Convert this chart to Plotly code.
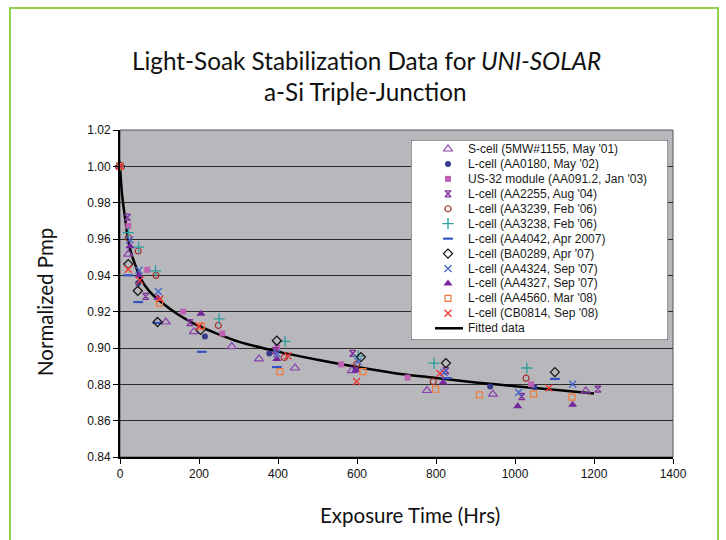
import plotly.graph_objects as go

# ---------------- data ----------------
s_cell_x = [0, 21, 116, 187, 283, 352, 443, 587, 777, 944, 1179]
s_cell_y = [1.000, 0.9517, 0.9143, 0.909, 0.9008, 0.894, 0.889, 0.8875, 0.8766, 0.8746, 0.8764]

aa0180_x = [0, 46, 215, 378, 597, 937, 1049]
aa0180_y = [1.000, 0.9358, 0.9063, 0.897, 0.888, 0.8788, 0.8785]

us32_x = [0, 21, 69, 160, 259, 398, 560, 728, 1041]
us32_y = [1.000, 0.9672, 0.943, 0.920, 0.908, 0.9003, 0.891, 0.8837, 0.880]

aa2255_x = [0, 19, 65, 177, 393, 589, 825, 1017, 1210]
aa2255_y = [1.000, 0.972, 0.9284, 0.914, 0.8985, 0.897, 0.8875, 0.8733, 0.8774]

aa3239_x = [0, 21, 46, 91, 249, 416, 599, 793, 1028]
aa3239_y = [1.000, 0.9607, 0.9534, 0.940, 0.9124, 0.8948, 0.891, 0.8815, 0.8834]

aa3238_x = [0, 21, 47, 90, 251, 418, 603, 795, 1030]
aa3238_y = [1.000, 0.9635, 0.9555, 0.9424, 0.916, 0.9036, 0.8955, 0.8917, 0.889]

aa4042_x = [0, 21, 46, 95, 207, 397, 827, 1101]
aa4042_y = [1.000, 0.940, 0.9253, 0.9138, 0.8979, 0.8895, 0.8834, 0.883]

ba0289_x = [0, 21, 45, 95, 204, 397, 610, 825, 1101]
ba0289_y = [1.000, 0.9462, 0.9315, 0.9143, 0.910, 0.904, 0.895, 0.8917, 0.8867]

aa4324_x = [0, 25, 48, 97, 397, 603, 820, 1009, 1146]
aa4324_y = [1.000, 0.9596, 0.9428, 0.9311, 0.897, 0.8925, 0.8865, 0.8755, 0.880]

aa4327_x = [0, 25, 48, 96, 205, 397, 597, 818, 1007, 1146]
aa4327_y = [1.000, 0.956, 0.940, 0.9275, 0.9188, 0.894, 0.8878, 0.881, 0.868, 0.8687]

aa4560_x = [0, 100, 206, 405, 615, 799, 910, 1047, 1144]
aa4560_y = [1.000, 0.9247, 0.912, 0.887, 0.887, 0.8773, 0.8742, 0.8746, 0.873]

cb0814_x = [0, 21, 50, 101, 200, 425, 599, 810, 1086]
cb0814_y = [1.000, 0.9433, 0.9372, 0.927, 0.912, 0.8957, 0.8815, 0.886, 0.878]

fit_x = [0, 5, 10, 15, 20, 30, 40, 50, 75, 100, 150, 200, 300, 400, 500,
         600, 700, 800, 900, 1000, 1100, 1200]
fit_y = [1.000, 0.985, 0.976, 0.968, 0.960, 0.951, 0.945, 0.939, 0.931, 0.926,
         0.918, 0.912, 0.9035, 0.898, 0.8935, 0.8895, 0.886, 0.8835, 0.881,
         0.879, 0.877, 0.875]

series_names = [
    "S-cell (5MW#1155, May '01)",
    "L-cell (AA0180, May '02)",
    "US-32 module (AA091.2, Jan '03)",
    "L-cell (AA2255, Aug '04)",
    "L-cell (AA3239, Feb '06)",
    "L-cell (AA3238, Feb '06)",
    "L-cell (AA4042, Apr 2007)",
    "L-cell (BA0289, Apr '07)",
    "L-cell (AA4324, Sep '07)",
    "L-cell (AA4327, Sep '07)",
    "L-cell (AA4560. Mar '08)",
    "L-cell (CB0814, Sep '08)",
]
fit_name = "Fitted data"

x_ticks = [0, 200, 400, 600, 800, 1000, 1200, 1400]
y_ticks = [0.84, 0.86, 0.88, 0.90, 0.92, 0.94, 0.96, 0.98, 1.00, 1.02]

# ---------------- styles ----------------
series_data = [
    (s_cell_x, s_cell_y), (aa0180_x, aa0180_y), (us32_x, us32_y),
    (aa2255_x, aa2255_y), (aa3239_x, aa3239_y), (aa3238_x, aa3238_y),
    (aa4042_x, aa4042_y), (ba0289_x, ba0289_y), (aa4324_x, aa4324_y),
    (aa4327_x, aa4327_y), (aa4560_x, aa4560_y), (cb0814_x, cb0814_y),
]
styles = [
    dict(symbol="triangle-up-open", color="#8A3FB0", size=8, width=1.2),
    dict(symbol="circle", color="#353A8A", size=6, width=0),
    dict(symbol="square", color="#C062B4", size=6, width=0),
    dict(symbol="hourglass-open", color="#7E3199", size=6, width=1.3),
    dict(symbol="circle-open", color="#A0302C", size=6, width=1.2),
    dict(symbol="cross-thin-open", color="#2A9E9E", size=8, width=1.3),
    dict(symbol="line-ew-open", color="#3552C0", size=7, width=2.2),
    dict(symbol="diamond-open", color="#111111", size=7, width=1.2),
    dict(symbol="x-thin-open", color="#4466CC", size=7, width=1.3),
    dict(symbol="triangle-up", color="#76289A", size=8, width=0),
    dict(symbol="square-open", color="#F07A38", size=6, width=1.2),
    dict(symbol="x-thin-open", color="#EE3A36", size=7, width=1.4),
]

fig = go.Figure()

# fitted line
fig.add_trace(go.Scatter(x=fit_x, y=fit_y, mode="lines", name=fit_name,
                         line=dict(color="black", width=2.5, shape="spline", smoothing=0.6),
                         showlegend=False, cliponaxis=False))

for (xs, ys), name, st in zip(series_data, series_names, styles):
    fig.add_trace(go.Scatter(
        x=xs, y=ys, mode="markers", name=name, showlegend=False, cliponaxis=False,
        marker=dict(symbol=st["symbol"], color=st["color"], size=st["size"],
                    line=dict(width=st["width"], color=st["color"]))))

# ---------------- custom compact legend (own small subplot) ----------------
L, R, T, B = 120, 53, 130, 83
W, H = 726, 540
pw, ph = W - L - R, H - T - B
box = dict(x0=411, x1=668, y0=140, y1=340)   # pixels
row_pitch = 14.94
first_row = 9.0
bw = box["x1"] - box["x0"]
bh = box["y1"] - box["y0"]

for i, (name, st) in enumerate(zip(series_names, styles)):
    ry = first_row + row_pitch * i
    fig.add_trace(go.Scatter(
        x=[37], y=[ry], xaxis="x2", yaxis="y2", mode="markers", showlegend=False,
        hoverinfo="skip", cliponaxis=False,
        marker=dict(symbol=st["symbol"], color=st["color"], size=st["size"],
                    line=dict(width=st["width"], color=st["color"]))))
    fig.add_annotation(x=55, y=ry, xref="x2", yref="y2", text=name, showarrow=False,
                       xanchor="left", yanchor="middle",
                       font=dict(family="Liberation Sans, Arial", size=12, color="#1a1a1a"))
ry = first_row + row_pitch * len(series_names)
fig.add_trace(go.Scatter(x=[24, 52], y=[ry, ry], xaxis="x2", yaxis="y2", mode="lines",
                         showlegend=False, hoverinfo="skip",
                         line=dict(color="black", width=2.5)))
fig.add_annotation(x=55, y=ry, xref="x2", yref="y2", text=fit_name, showarrow=False,
                   xanchor="left", yanchor="middle",
                   font=dict(family="Liberation Sans, Arial", size=12, color="#1a1a1a"))

fig.add_shape(type="rect", xref="x2", yref="y2", x0=0, x1=bw, y0=0, y1=bh,
              fillcolor="white", line=dict(color="#333333", width=1), layer="below")


def px_x(p):
    return (p - L) / pw


def px_y(p):
    return (H - B - p) / ph


# plot frame (thin top/right border)
fig.add_shape(type="rect", xref="paper", yref="paper", x0=0, x1=1, y0=0, y1=1,
              line=dict(color="#555555", width=1), layer="below")
# outer green frame
fig.add_shape(type="rect", xref="paper", yref="paper",
              x0=px_x(10), x1=px_x(718), y0=px_y(548), y1=px_y(8),
              line=dict(color="#92D050", width=2), layer="below")

# titles
title_font = dict(family="Lato, Calibri, sans-serif", size=24.3, color="#111111")
fig.add_annotation(x=px_x(366), y=px_y(61), xref="paper", yref="paper", showarrow=False,
                   text="Light-Soak Stabilization Data for <i>UNI-SOLAR</i>",
                   xanchor="center", yanchor="middle", font=title_font)
fig.add_annotation(x=px_x(365), y=px_y(91), xref="paper", yref="paper", showarrow=False,
                   text="a-Si Triple-Junction", xanchor="center", yanchor="middle",
                   font=title_font)
axis_title_font = dict(family="Lato, Calibri, sans-serif", size=20.5, color="#111111")
fig.add_annotation(x=px_x(410), y=px_y(515), xref="paper", yref="paper", showarrow=False,
                   text="Exposure Time (Hrs)", xanchor="center", yanchor="middle",
                   font=axis_title_font)
fig.add_annotation(x=px_x(45), y=px_y(302), xref="paper", yref="paper", showarrow=False,
                   text="Normalized Pmp", textangle=-90, xanchor="center", yanchor="middle",
                   font=axis_title_font)

tick_font = dict(family="Liberation Sans, Arial", size=12, color="#111111")
fig.update_layout(
    width=W, height=H,
    margin=dict(l=L, r=R, t=T, b=B, pad=0),
    paper_bgcolor="white",
    plot_bgcolor="#B8B8BC",
    showlegend=False,
    xaxis=dict(range=[0, 1400], tickvals=x_ticks, ticks="outside", ticklen=5,
               tickcolor="black", tickwidth=1, showgrid=False, zeroline=False,
               showline=True, linecolor="black", linewidth=2, tickfont=tick_font,
               fixedrange=True),
    yaxis=dict(range=[0.84, 1.02], tickvals=y_ticks, tickformat=".2f", ticks="outside",
               ticklen=5, tickcolor="black", tickwidth=1, showgrid=True,
               gridcolor="#2a2a2a", gridwidth=1, zeroline=False, showline=True,
               linecolor="black", linewidth=2, tickfont=tick_font, fixedrange=True),
    xaxis2=dict(domain=[px_x(box["x0"]), px_x(box["x1"])], range=[0, bw], visible=False,
                fixedrange=True, anchor="y2"),
    yaxis2=dict(domain=[px_y(box["y1"]), px_y(box["y0"])], range=[bh, 0], visible=False,
                fixedrange=True, anchor="x2"),
)

fig.write_html("out.html")
